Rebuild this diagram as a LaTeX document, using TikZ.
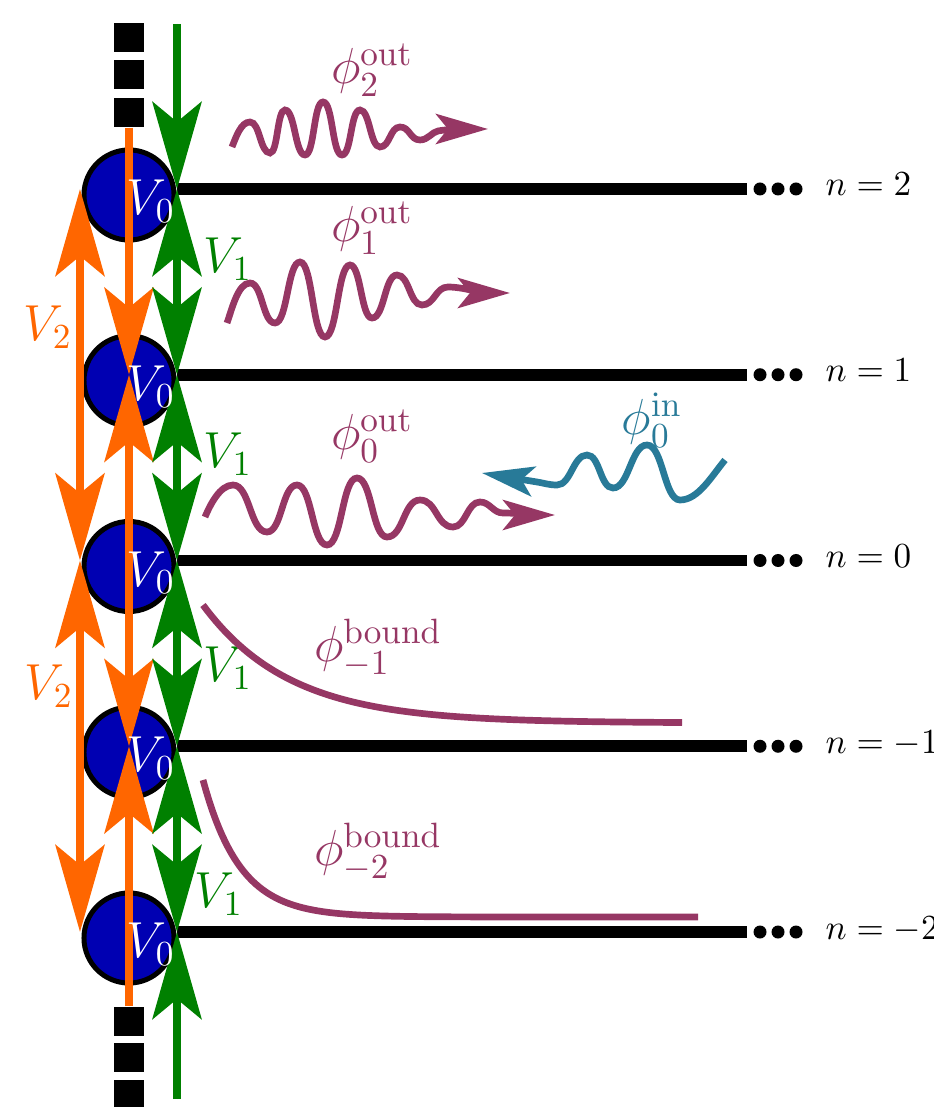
\documentclass[tikz,border=0pt]{standalone}
\usetikzlibrary{arrows.meta}
\definecolor{vblue}{RGB}{0,0,178}
\definecolor{vorange}{RGB}{255,102,0}
\definecolor{vgreen}{RGB}{0,128,0}
\definecolor{wpurple}{RGB}{150,55,100}
\definecolor{wteal}{RGB}{40,122,152}
\tikzset{
  BigTip/.tip={Stealth[length=0.87cm,width=0.49cm,inset=0.2cm]},
  WaveTip/.tip={Stealth[length=0.52cm,width=0.30cm,inset=0.12cm]},
  site/.style={circle,draw=black,fill=vblue,line width=1.42pt,minimum size=0.9cm,inner sep=0pt},
  sq/.style={fill=black,minimum size=0.29cm,inner sep=0pt},
  chainline/.style={line width=3.4pt},
  dotc/.style={circle,fill=black,minimum size=0.13cm,inner sep=0pt},
  orangeline/.style={draw=vorange,fill=vorange,line width=2.3pt},
  greenline/.style={draw=vgreen,fill=vgreen,line width=2.3pt},
  wave/.style={draw=wpurple,line width=1.9pt},
  wavein/.style={draw=wteal,line width=1.9pt},
  vlab/.style={text=white,font=\Large,inner sep=0pt},
  glab/.style={text=vgreen,font=\Large,inner sep=0pt},
  olab/.style={text=vorange,font=\Large,inner sep=0pt},
  plab/.style={text=wpurple,font=\Large,inner sep=0pt},
  tlab/.style={text=wteal,font=\Large,inner sep=0pt},
  nlab/.style={anchor=base west,inner sep=0pt}
}
\begin{document}
\begin{tikzpicture}[x=0.01cm,y=-0.01cm]
\useasboundingbox (0,0) rectangle (933,1107);
% row coordinates
\foreach \n/\y in {2/189,1/374.75,0/560.5,m1/746.25,m2/932}{
  \coordinate (e\n) at (177,\y);
  \coordinate (w\n) at (80,\y);
  \coordinate (m\n) at (129,\y);
  \coordinate (r\n) at (747,\y);
}
% chains
\foreach \n in {2,1,0,m1,m2}{
  \draw[chainline] (e\n) -- (r\n);
}
\foreach \n/\y in {2/189,1/374.75,0/560.5,m1/746.25,m2/932}{
  \node[dotc] (da\n) at (760,\y) {};
  \node[dotc] (db\n) at (778,\y) {};
  \node[dotc] (dc\n) at (796,\y) {};
}
\node[nlab] (n2) at (825,196) {$n=2$};
\node[nlab] (n1) at (825,381.75) {$n=1$};
\node[nlab] (n0) at (825,567.5) {$n=0$};
\node[nlab] (nm1) at (825,753.25) {$n=-1$};
\node[nlab] (nm2) at (825,939) {$n=-2$};
% sites
\node[site] (c2) at (129,195) {};
\node[site] (c1) at (129,380.75) {};
\node[site] (c0) at (129,566.5) {};
\node[site] (cm1) at (129,752.25) {};
\node[site] (cm2) at (129,938) {};
% squares
\node[sq] (t1) at (129,37.5) {};
\node[sq] (t2) at (129,75) {};
\node[sq] (t3) at (129,112.5) {};
\node[sq] (b1) at (129,1021.5) {};
\node[sq] (b2) at (129,1057.5) {};
\node[sq] (b3) at (129,1094.5) {};
\coordinate (gtop) at (177,24);
\coordinate (gbot) at (177,1099);
% orange V2 arrows
\draw[orangeline,{BigTip}-{BigTip}] (w2) -- (w0);
\draw[orangeline,{BigTip}-{BigTip}] (w0) -- (wm2);
\draw[orangeline,-{BigTip}] (t3.south) -- (m1);
\draw[orangeline,{BigTip}-{BigTip}] (m1) -- (mm1);
\draw[orangeline,-{BigTip}] (b1.north) -- (mm1);
% green V1 arrows
\draw[greenline,-{BigTip}] (gtop) -- (e2);
\draw[greenline,{BigTip}-{BigTip}] (e2) -- (e1);
\draw[greenline,{BigTip}-{BigTip}] (e1) -- (e0);
\draw[greenline,{BigTip}-{BigTip}] (e0) -- (em1);
\draw[greenline,{BigTip}-{BigTip}] (em1) -- (em2);
\draw[greenline,-{BigTip}] (gbot) -- (em2);
% V0 labels
\node[vlab] (v2) at (151,201) {$V_0$};
\node[vlab] (v1) at (151,386.75) {$V_0$};
\node[vlab] (v0) at (151,572.5) {$V_0$};
\node[vlab] (vm1) at (151,758.25) {$V_0$};
\node[vlab] (vm2) at (151,944) {$V_0$};
% V1 labels
\node[glab] (g1) at (228,259) {$V_1$};
\node[glab] (g2) at (228,454) {$V_1$};
\node[glab] (g3) at (228,668) {$V_1$};
\node[glab] (g4) at (219,894) {$V_1$};
% V2 labels
\node[olab] (o1) at (48,327) {$V_2$};
\node[olab] (o2) at (49,686) {$V_2$};
% waves
\draw[wave,-{WaveTip}] (232,147) .. controls +(4,-10) and +(-9,0) .. (250,122)
  .. controls +(10,0) and +(-10,0) .. (270,153)
  .. controls +(8,0) and +(-8,0) .. (285,110)
  .. controls +(10,0) and +(-10,0) .. (305,155)
  .. controls +(9.5,0) and +(-9.5,0) .. (323,102)
  .. controls +(10,0) and +(-10,0) .. (342,155)
  .. controls +(9.5,0) and +(-9.5,0) .. (360,110)
  .. controls +(10,0) and +(-10,0) .. (380,147)
  .. controls +(10,0) and +(-10,0) .. (400,127)
  .. controls +(10,0) and +(-10,0) .. (420,140)
  .. controls +(8,0) and +(-6,1) .. (438,131)
  .. controls +(10,-2) and +(-20,0) .. (488,129);
\draw[wave,-{WaveTip}] (227,323) .. controls +(5,-14) and +(-12,0) .. (250,283)
  .. controls +(12.5,0) and +(-12.5,0) .. (275,323)
  .. controls +(12.5,0) and +(-12.5,0) .. (300,262)
  .. controls +(12.5,0) and +(-12.5,0) .. (325,337)
  .. controls +(12.5,0) and +(-12.5,0) .. (350,265)
  .. controls +(11,0) and +(-11,0) .. (372,318)
  .. controls +(12.5,0) and +(-12.5,0) .. (397,275)
  .. controls +(12.5,0) and +(-12.5,0) .. (422,305)
  .. controls +(12.5,0) and +(-12.5,0) .. (448,287)
  .. controls +(14,0) and +(-25,0) .. (510,293);
\draw[wave,-{WaveTip}] (205,517) .. controls +(5,-12) and +(-13,0) .. (233,485)
  .. controls +(17,0) and +(-17,0) .. (267,532)
  .. controls +(15,0) and +(-15,0) .. (297,485)
  .. controls +(15,0) and +(-15,0) .. (327,545)
  .. controls +(15,0) and +(-15,0) .. (357,478)
  .. controls +(15,0) and +(-15,0) .. (387,537)
  .. controls +(16.5,0) and +(-16.5,0) .. (420,500)
  .. controls +(16.5,0) and +(-16.5,0) .. (453,527)
  .. controls +(13,0) and +(-13,0) .. (480,502)
  .. controls +(10,0) and +(-10,0) .. (503,513)
  .. controls +(15,0) and +(-20,0) .. (555,515);
\draw[wavein,-{WaveTip}] (725,460) .. controls +(-14,17) and +(18,0) .. (680,500)
  .. controls +(-16,0) and +(16,0) .. (647,445)
  .. controls +(-16,0) and +(16,0) .. (613,488)
  .. controls +(-13,0) and +(13,0) .. (587,455)
  .. controls +(-14,0) and +(14,0) .. (557,485)
  .. controls +(-8,0) and +(8,1.3) .. (537,482)
  .. controls +(-20,-3.3) and +(20,3.3) .. (482,473);
\draw[wave] plot[domain=203:682,samples=120] (\x,{723-118*exp(-(\x-203)/87)});
\draw[wave] plot[domain=203:698,samples=160] (\x,{917-137*exp(-(\x-203)/37)});
% wave labels
\node[plab] (p2) at (372,70) {$\phi_2^{\mathrm{out}}$};
\node[plab] (p1) at (372,228) {$\phi_1^{\mathrm{out}}$};
\node[plab] (p0) at (372,436) {$\phi_0^{\mathrm{out}}$};
\node[tlab] (pin) at (652,420) {$\phi_0^{\mathrm{in}}$};
\node[plab] (pb1) at (378,648) {$\phi_{-1}^{\mathrm{bound}}$};
\node[plab] (pb2) at (378,852) {$\phi_{-2}^{\mathrm{bound}}$};
\end{tikzpicture}
\end{document}
